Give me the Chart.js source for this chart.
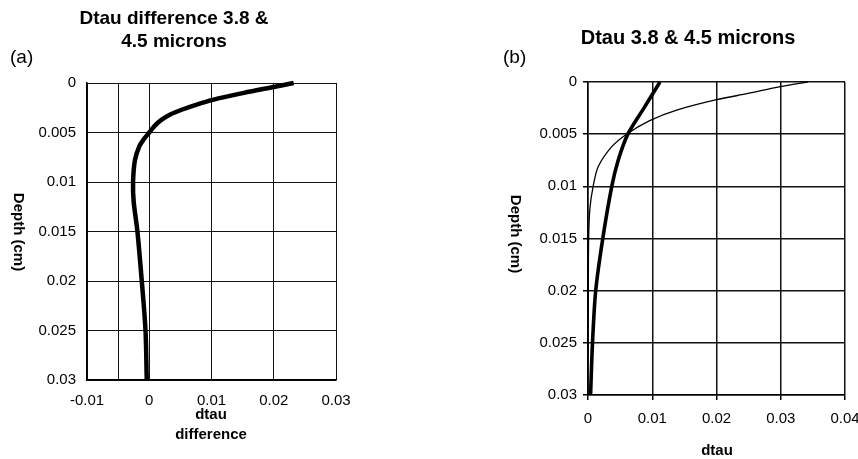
<!DOCTYPE html>
<html>
<head>
<meta charset="utf-8">
<script src="https://cdn.jsdelivr.net/npm/chart.js@4/dist/chart.umd.min.js"></script>
<style>
  html, body { margin: 0; padding: 0; background: #fff; }
  #wrap { position: relative; width: 858px; height: 459px; }
  canvas { position: absolute; top: 0; }
  #ca { left: 0; }
  #cb { left: 429px; }
</style>
</head>
<body>
<div id="wrap">
  <canvas id="ca" width="429" height="459"></canvas>
  <canvas id="cb" width="429" height="459"></canvas>
</div>
<script>
// ---------- DATA ----------
// Panel (a): dtau difference vs depth
const depthA = [0, 0.0004, 0.001, 0.0017, 0.0022, 0.0027, 0.0032, 0.0037, 0.0043, 0.005, 0.0057, 0.0064, 0.0078, 0.01, 0.012, 0.015, 0.02, 0.025, 0.03];
const diffA  = [0.0232, 0.02, 0.0152, 0.0102, 0.0075, 0.0052, 0.0033, 0.0020, 0.0009, 0.0, -0.0009, -0.0016, -0.0023, -0.0026, -0.0025, -0.0019, -0.0012, -0.0006, -0.0004];

// Panel (b): dtau at 4.5 microns (thick) and 3.8 microns (thin) vs depth
const depthThick = [0, 0.0011, 0.0025, 0.005, 0.0075, 0.01, 0.015, 0.02, 0.025, 0.03];
const dtauThick  = [0.0112, 0.0101, 0.0087, 0.0062, 0.0047, 0.0037, 0.0023, 0.0012, 0.0007, 0.0004];
const depthThin  = [0, 0.00045, 0.0011, 0.0017, 0.0027, 0.0037, 0.005, 0.0062, 0.0081, 0.01, 0.0121, 0.015, 0.02, 0.025, 0.03];
const dtauThin   = [0.0342, 0.0299, 0.0249, 0.020, 0.0138, 0.0096, 0.006, 0.0037, 0.0016, 0.0008, 0.0003, 0.0001, 0.00005, 0.00003, 0.0];

// Tick values / labels
const depthTicks       = [0, 0.005, 0.01, 0.015, 0.02, 0.025, 0.03];
const depthTickLabels  = ['0', '0.005', '0.01', '0.015', '0.02', '0.025', '0.03'];
const xTicksA          = [-0.01, -0.005, 0, 0.01, 0.02, 0.03];
const xTickLabelsA     = ['-0.01', '', '0', '0.01', '0.02', '0.03'];
const xTicksB          = [0, 0.01, 0.02, 0.03, 0.04];
const xTickLabelsB     = ['0', '0.01', '0.02', '0.03', '0.04'];

// Texts
const titleA = ['Dtau difference 3.8 &', '4.5 microns'];
const titleB = 'Dtau 3.8 & 4.5 microns';
const yTitle = 'Depth (cm)';
const xTitleA = ['dtau', 'difference'];
const xTitleB = 'dtau';

// ---------- HELPERS ----------
const FONT = '"Liberation Sans", Arial, Helvetica, sans-serif';
const pts = (xs, ys) => xs.map((x, i) => ({ x: x, y: ys[i] }));

function textPlugin(items) {
  return {
    id: 'texts',
    afterDraw(chart) {
      const ctx = chart.ctx;
      ctx.save();
      ctx.fillStyle = '#000';
      items.forEach(t => {
        ctx.save();
        ctx.font = t.font;
        ctx.textAlign = t.align || 'center';
        ctx.textBaseline = 'middle';
        ctx.translate(t.x, t.y);
        if (t.rot) ctx.rotate(t.rot);
        ctx.fillText(t.text, 0, 0);
        ctx.restore();
      });
      ctx.restore();
    }
  };
}

function makeChart(id, cfg) {
  return new Chart(document.getElementById(id), {
    type: 'scatter',
    data: { datasets: cfg.datasets },
    options: {
      responsive: false,
      animation: false,
      devicePixelRatio: 1,
      layout: { autoPadding: false, padding: { top: cfg.top, right: cfg.right, left: 0, bottom: 0 } },
      plugins: { legend: { display: false }, tooltip: { enabled: false }, title: { display: false } },
      elements: { point: { radius: 0 } },
      scales: {
        x: {
          type: 'linear',
          min: cfg.xMin, max: cfg.xMax,
          afterBuildTicks: s => { s.ticks = cfg.xTicks.map(v => ({ value: v })); },
          afterFit: s => { s.height = cfg.xAxisH; s.paddingLeft = 0; s.paddingRight = 0; },
          ticks: {
            autoSkip: false, maxRotation: 0, minRotation: 0,
            color: '#000', font: { family: FONT, size: 15 },
            padding: cfg.xPad,
            callback: (v, i) => cfg.xLabels[i]
          },
          grid: { color: '#111', lineWidth: cfg.gridW, drawTicks: cfg.drawTicks, tickLength: 5, tickColor: '#000' },
          border: { display: true, color: '#000', width: 1.5 }
        },
        y: {
          type: 'linear',
          reverse: true,
          min: 0, max: 0.03,
          afterBuildTicks: s => { s.ticks = depthTicks.map(v => ({ value: v })); },
          afterFit: s => { s.width = cfg.yAxisW; s.paddingTop = 0; s.paddingBottom = 0; },
          ticks: {
            autoSkip: false,
            color: '#000', font: { family: FONT, size: 15 },
            padding: cfg.yPad,
            callback: (v, i) => depthTickLabels[i]
          },
          grid: { color: '#111', lineWidth: cfg.gridW, drawTicks: cfg.drawTicks, tickLength: 5, tickColor: '#000' },
          border: { display: true, color: '#000', width: 1.5 }
        }
      }
    },
    plugins: [textPlugin(cfg.texts)]
  });
}

// ---------- PANEL (a) ----------
makeChart('ca', {
  datasets: [{
    data: pts(diffA, depthA),
    showLine: true, borderColor: '#000', borderWidth: 4.5, tension: 0.3,
    pointRadius: 0, clip: false
  }],
  top: 83, right: 93, xAxisH: 79, yAxisW: 87,
  xMin: -0.01, xMax: 0.03, xTicks: xTicksA, xLabels: xTickLabelsA,
  xPad: 12, yPad: 11, gridW: 1, drawTicks: false,
  texts: [
    { text: titleA[0], x: 174, y: 19, font: 'bold 19px ' + FONT },
    { text: titleA[1], x: 174, y: 42, font: 'bold 19px ' + FONT },
    { text: '(a)', x: 10, y: 58, align: 'left', font: '19px ' + FONT },
    { text: yTitle, x: 18, y: 232, rot: Math.PI / 2, font: 'bold 15px ' + FONT },
    { text: xTitleA[0], x: 211, y: 415, font: 'bold 15px ' + FONT },
    { text: xTitleA[1], x: 211, y: 435, font: 'bold 15px ' + FONT }
  ]
});

// ---------- PANEL (b) ----------
makeChart('cb', {
  datasets: [
    {
      data: pts(dtauThin, depthThin),
      showLine: true, borderColor: '#000', borderWidth: 1.3, tension: 0.3,
      pointRadius: 0, clip: false
    },
    {
      data: pts(dtauThick, depthThick),
      showLine: true, borderColor: '#000', borderWidth: 3.6, tension: 0.3,
      pointRadius: 0, clip: false
    }
  ],
  top: 82, right: 13, xAxisH: 64, yAxisW: 159,
  xMin: 0, xMax: 0.04, xTicks: xTicksB, xLabels: xTickLabelsB,
  xPad: 10, yPad: 6, gridW: 1.5, drawTicks: true,
  texts: [
    { text: titleB, x: 259, y: 38, font: 'bold 20px ' + FONT },
    { text: '(b)', x: 74, y: 58, align: 'left', font: '19px ' + FONT },
    { text: yTitle, x: 86, y: 234, rot: Math.PI / 2, font: 'bold 15px ' + FONT },
    { text: xTitleB, x: 288, y: 451, font: 'bold 15px ' + FONT }
  ]
});
</script>
</body>
</html>
